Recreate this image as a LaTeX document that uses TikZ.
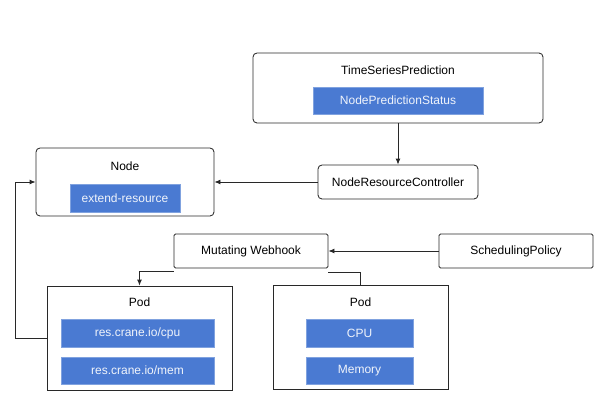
\documentclass[tikz,border=0pt]{standalone}
\usepackage{fontspec}
\setmainfont{Liberation Sans}
\usetikzlibrary{arrows.meta}
\definecolor{lineC}{RGB}{40,40,40}
\definecolor{blueC}{RGB}{74,122,210}
\begin{document}
\begin{tikzpicture}[x=1pt,y=-1pt,
  font=\fontsize{12}{14}\selectfont,
  frame/.style={draw=lineC,line width=0.85pt,fill=white,inner sep=0pt},
  rframe/.style={frame,rounded corners=4pt},
  sframe/.style={frame,rounded corners=1.5pt},
  title/.style={inner sep=0pt,text=black},
  bluebox/.style={fill=blueC,draw=blueC!70!white,line width=0.4pt,text=white!92!blueC,inner sep=0pt},
  conn/.style={draw=lineC,line width=0.85pt},
  arr/.style={conn,-{Latex[length=6pt,width=5pt]}}]
\useasboundingbox (0,0) rectangle (610,400);
% TimeSeriesPrediction
\node[rframe,minimum width=290pt,minimum height=70pt] (tsp) at (398,88) {};
\node[title] (tspt) at (398,70) {TimeSeriesPrediction};
\node[bluebox,minimum width=170pt,minimum height=27pt] (nps) at (398,100.5) {NodePredictionStatus};
% NodeResourceController
\node[rframe,minimum width=160pt,minimum height=34pt] (nrc) at (398,182) {NodeResourceController};
% Node
\node[rframe,minimum width=178pt,minimum height=68pt] (node) at (125,182) {};
\node[title] (nodet) at (125,166) {Node};
\node[bluebox,minimum width=110pt,minimum height=28pt] (ext) at (125,198) {extend-resource};
% Mutating Webhook and SchedulingPolicy
\node[sframe,minimum width=154pt,minimum height=34pt] (mw) at (251,251) {Mutating Webhook};
\node[sframe,minimum width=154pt,minimum height=34pt] (sp) at (516,251) {SchedulingPolicy};
% Pod left
\node[frame,minimum width=185pt,minimum height=104pt] (podl) at (139.5,338) {};
\node[title] (podlt) at (139.5,302) {Pod};
\node[bluebox,minimum width=153pt,minimum height=28pt] (rcpu) at (137.5,333) {res.crane.io/cpu};
\node[bluebox,minimum width=153pt,minimum height=27pt] (rmem) at (137.5,370.5) {res.crane.io/mem};
% Pod right
\node[frame,minimum width=175pt,minimum height=104pt] (podr) at (360.5,337) {};
\node[title] (podrt) at (360.5,302) {Pod};
\node[bluebox,minimum width=107pt,minimum height=28pt] (cpu) at (359.5,333) {CPU};
\node[bluebox,minimum width=107pt,minimum height=27pt] (mem) at (359.5,370.5) {Memory};
% connectors
\coordinate (leftx) at (15,338);
\draw[arr] (tsp.south) -- (nrc.north);
\draw[arr] (nrc.west) -- (node.east);
\draw[arr] (sp.west) -- (mw.east);
\draw[arr] ([yshift=-3pt]mw.south west) -| (podl.north);
\draw[arr] (podl.west) -- (leftx) |- (node.west);
\draw[conn] (podr.north) |- ([yshift=-4pt]mw.south east);
\end{tikzpicture}
\end{document}
